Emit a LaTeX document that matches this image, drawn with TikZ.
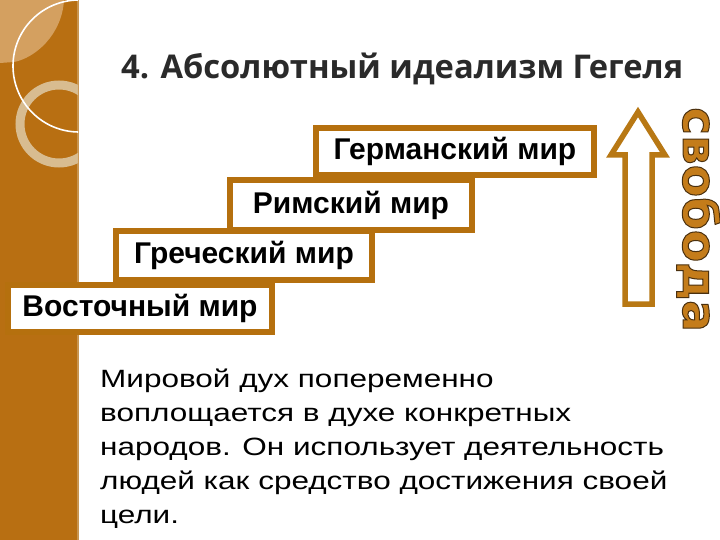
\documentclass[tikz,border=0pt]{standalone}
\usepackage{fontspec}
\setmainfont{Liberation Sans}
\newfontfamily\titlefont{Open Sans}
\newfontfamily\parafont[FakeStretch=1.26]{Liberation Sans}
\newfontfamily\vfont{DejaVu Sans}
\definecolor{barc}{HTML}{B86F12}
\definecolor{lightc}{HTML}{D4A060}
\definecolor{ringc}{HTML}{D8BC90}
\definecolor{boxc}{HTML}{B5700E}
\definecolor{arrc}{HTML}{B87814}
\definecolor{titlec}{HTML}{2A2A2A}
\definecolor{vfill}{HTML}{C47C1A}
\newcommand\outl[1]{\special{pdf:code 2 Tr 1 w 0.29 0.19 0.06 RG}#1\special{pdf:code 0 Tr}}
\tikzset{
  wbox/.style={draw=boxc, line width=6pt, fill=white, inner sep=0pt,
    font=\bfseries\fontsize{30}{36}\selectfont},
}
\begin{document}
\begin{tikzpicture}[x=1pt,y=-1pt]
\useasboundingbox (0,0) rectangle (720,540);
\fill[white] (0,0) rectangle (720,540);
% left decorative bar
\fill[barc] (0,0) rectangle (78,540);
\fill[ringc!50!barc] (76.5,0) rectangle (79,540);
\begin{scope}
  \clip (0,0) rectangle (78,540);
  \fill[lightc] (0,0) -- (64,0) .. controls (62,35) and (35,58) .. (14,62) -- (0,63) -- cycle;
  \draw[ringc, line width=9pt] (59,124) circle[radius=39];
  \draw[white, line width=1.6pt] (79,66) circle[radius=66];
\end{scope}
% title
\node[anchor=base west, inner sep=0pt, text=titlec,
  font=\titlefont\bfseries\fontsize{32.7}{38}\selectfont] (title) at (121,79)
  {4. Абсолютный идеализм Гегеля};
% steps
\node[wbox, minimum width=264pt, minimum height=47pt] (east) at (140,308.5) {Восточный мир};
\node[wbox, minimum width=256pt, minimum height=49pt] (greek) at (244,255.5) {Греческий мир};
\node[wbox, minimum width=242pt, minimum height=50pt] (rome) at (351,205) {Римский мир};
\node[wbox, minimum width=278pt, minimum height=47pt] (germ) at (455,151.5) {Германский мир};
% arrow
\draw[arrc, line width=5.5pt, fill=white, line join=miter]
  (625,304) -- (652,304) -- (652,155) -- (665,155) -- (638,112) -- (611,155) -- (625,155) -- cycle;
% vertical word
\node[rotate=-90, anchor=base west, inner sep=0pt, text=vfill,
  font=\vfont\bfseries\fontsize{47}{50}\selectfont] (svoboda) at (683,107) {\outl{свобода}};
% paragraph
\node[anchor=base west, align=left, inner sep=0pt,
  font=\parafont\fontsize{25}{34}\selectfont] (para) at (100,523)
  {Мировой дух попеременно\\воплощается в духе конкретных\\народов. Он использует деятельность\\людей как средство достижения своей\\цели.};
\end{tikzpicture}
\end{document}
